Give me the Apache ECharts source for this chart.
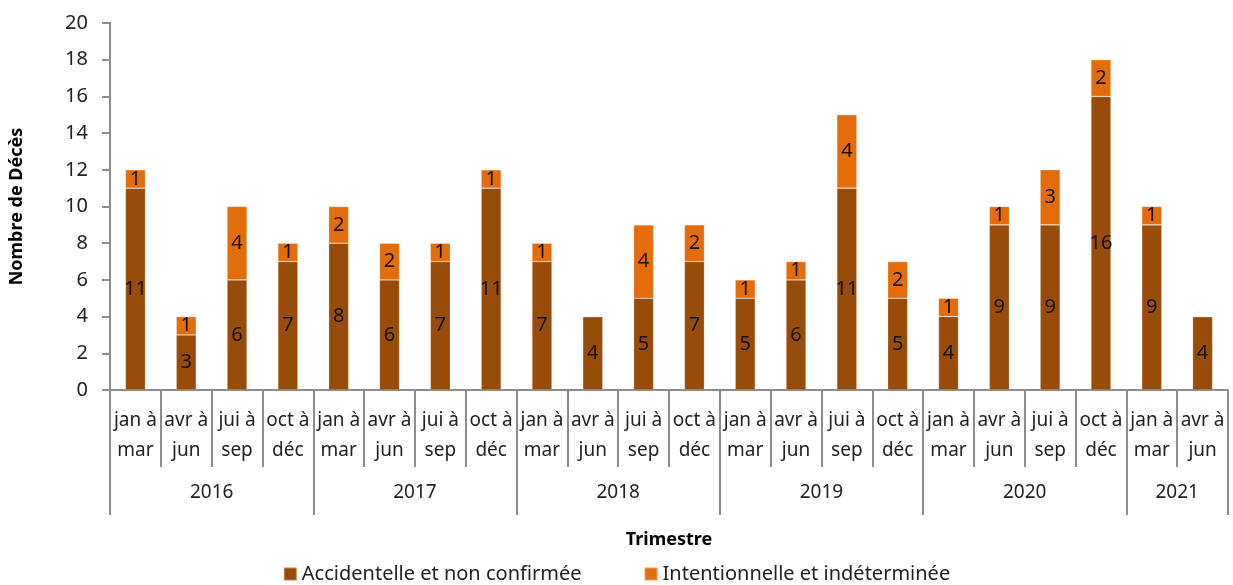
<!DOCTYPE html>
<html>
<head>
<meta charset="utf-8">
<script src="https://cdn.jsdelivr.net/npm/echarts@6/dist/echarts.min.js"></script>
<style>html,body{margin:0;padding:0;background:#fff}#c{width:1233px;height:585px}</style>
</head>
<body>
<div id="c"></div>
<script>
const quarters = ['jan à\nmar','avr à\njun','jui à\nsep','oct à\ndéc'];
const years = ['2016','2017','2018','2019','2020','2021'];
const quartersPerYear = [4,4,4,4,4,2];
const accidentelle = [11,3,6,7, 8,6,7,11, 7,4,5,7, 5,6,11,5, 4,9,9,16, 9,4];
const intentionnelle = [1,1,4,1, 2,2,1,1, 1,0,4,2, 1,1,4,2, 1,1,3,2, 1,0];
const seriesNames = ['Accidentelle et non confirmée','Intentionnelle et indéterminée'];
const yTicks = {min:0, max:20, interval:2};

const categories = [];
quartersPerYear.forEach(n => { for (let i = 0; i < n; i++) categories.push(quarters[i]); });
const total = categories.length;
const boundaries = [0];
const centers = [];
let acc = 0;
quartersPerYear.forEach(n => { centers.push(acc + n/2); acc += n; boundaries.push(acc); });
const yearAt = {};
centers.forEach((c,i) => { yearAt[c] = years[i]; });

const FONT = 'Noto Sans';
const axisGray = '#8c8c8c';
const chart = echarts.init(document.getElementById('c'));
chart.setOption({
  animation: false,
  textStyle: {fontFamily: FONT},
  grid: {left: 107, right: 5, top: 23, bottom: 195},
  legend: {
    bottom: -4, left: 'center', itemWidth: 13, itemHeight: 13, itemGap: 62,
    icon: 'rect',
    textStyle: {fontSize: 20, color: '#222', fontFamily: FONT},
    data: seriesNames
  },
  xAxis: [
    {
      type: 'category', data: categories, position: 'bottom',
      axisLine: {lineStyle: {color: axisGray, width: 2}},
      axisTick: {show: true, interval: 0, length: 77, lineStyle: {color: axisGray, width: 2}},
      axisLabel: {interval: 0, fontSize: 19, color: '#222', lineHeight: 30, margin: 16, hideOverlap: false}
    },
    {
      type: 'value', min: 0, max: total, position: 'bottom',
      name: 'Trimestre', nameLocation: 'middle', nameGap: 141,
      nameTextStyle: {fontSize: 18, fontWeight: 'bold', color: '#000'},
      splitLine: {show: false},
      axisLine: {show: false},
      axisTick: {show: true, customValues: boundaries, length: 125, lineStyle: {color: axisGray, width: 2}},
      axisLabel: {customValues: centers, fontSize: 19, color: '#222', margin: 93,
        formatter: v => yearAt[v] || ''}
    }
  ],
  yAxis: {
    type: 'value', min: yTicks.min, max: yTicks.max, interval: yTicks.interval,
    name: 'Nombre de Décès', nameLocation: 'middle', nameGap: 84, nameRotate: 90,
    nameTextStyle: {fontSize: 18, fontWeight: 'bold', color: '#000'},
    splitLine: {show: false},
    axisLine: {show: true, lineStyle: {color: axisGray, width: 2}},
    axisTick: {show: true, length: 8, lineStyle: {color: axisGray, width: 2}},
    axisLabel: {fontSize: 20, color: '#222', margin: 22}
  },
  series: [
    {
      name: seriesNames[0], type: 'bar', stack: 's', barWidth: 20,
      data: accidentelle,
      itemStyle: {color: '#994c0a', borderColor: 'rgba(255,255,255,0.35)', borderWidth: 0.6},
      label: {show: true, position: 'inside', fontSize: 20, color: '#111',
        formatter: p => p.value ? p.value : ''}
    },
    {
      name: seriesNames[1], type: 'bar', stack: 's', barWidth: 20,
      data: intentionnelle,
      itemStyle: {color: '#e46c0a', borderColor: 'rgba(255,255,255,0.35)', borderWidth: 0.6},
      label: {show: true, position: 'inside', fontSize: 20, color: '#111',
        formatter: p => p.value ? p.value : ''}
    }
  ]
});
</script>
</body>
</html>
